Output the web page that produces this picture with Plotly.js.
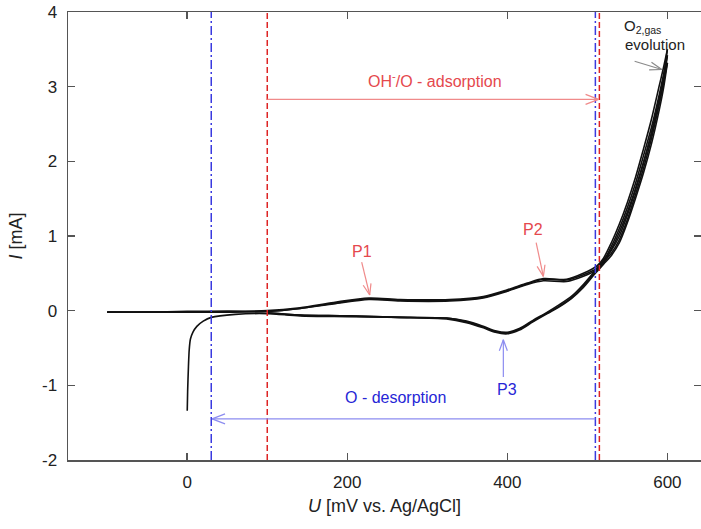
<!DOCTYPE html>
<html><head><meta charset="utf-8">
<script src="https://cdn.plot.ly/plotly-3.0.1.min.js"></script>
<style>html,body{margin:0;padding:0;background:#fff}</style>
</head><body><div id="chart" style="width:701px;height:529px"></div>
<script>
// ---- data ----
const U_an = [-100, -50, 0, 50, 100, 141, 183, 227, 266, 328, 370, 400, 425, 445, 474, 495, 512, 520, 530, 540, 550, 560, 570, 580, 590, 595, 600];
const I_an_1 = [-0.02, -0.02, -0.02, -0.01, -0.01, 0.03, 0.10, 0.16, 0.14, 0.14, 0.18, 0.27, 0.36, 0.42, 0.41, 0.48, 0.57, 0.66, 0.86, 1.10, 1.38, 1.70, 2.07, 2.45, 2.90, 3.15, 3.42];
const I_an_2 = [-0.02, -0.02, -0.01, -0.01, 0.00, 0.04, 0.11, 0.17, 0.15, 0.15, 0.19, 0.28, 0.37, 0.43, 0.42, 0.50, 0.60, 0.70, 0.91, 1.16, 1.45, 1.78, 2.16, 2.56, 3.02, 3.25, 3.50];
const I_an_3 = [-0.02, -0.02, -0.02, -0.02, -0.01, 0.03, 0.09, 0.15, 0.13, 0.13, 0.17, 0.26, 0.35, 0.40, 0.39, 0.46, 0.55, 0.63, 0.82, 1.05, 1.32, 1.63, 1.98, 2.36, 2.80, 3.05, 3.32];

const U_ca = [600, 595, 590, 580, 570, 560, 550, 540, 530, 520, 510, 495, 480, 465, 450, 432, 415, 400, 385, 370, 349, 324, 266, 200, 141, 100, 60, 30, 20, 12, 7, 4, 2.5, 1.5, 0.5, 0];
const I_ca_1 = [3.42, 3.05, 2.78, 2.30, 1.90, 1.55, 1.22, 0.95, 0.77, 0.65, 0.52, 0.33, 0.17, 0.06, -0.03, -0.14, -0.25, -0.30, -0.28, -0.22, -0.15, -0.10, -0.09, -0.07, -0.06, -0.03];
const I_ca_2 = [3.50, 3.12, 2.86, 2.38, 1.97, 1.61, 1.28, 1.00, 0.81, 0.68, 0.54, 0.35, 0.19, 0.08, -0.02, -0.13, -0.24, -0.29, -0.27, -0.21, -0.14, -0.10, -0.09, -0.07, -0.06, -0.03];
const I_ca_3 = [3.32, 2.97, 2.70, 2.23, 1.84, 1.50, 1.18, 0.91, 0.74, 0.62, 0.50, 0.31, 0.16, 0.05, -0.04, -0.15, -0.26, -0.31, -0.29, -0.23, -0.16, -0.11, -0.09, -0.08, -0.07, -0.04, -0.05, -0.09, -0.14, -0.21, -0.29, -0.38, -0.52, -0.75, -1.08, -1.34];

const xTicks = [0, 200, 400, 600];
const yTicks = [-2, -1, 0, 1, 2, 3, 4];
const redLines = [100, 515];
const blueLines = [30, 510];

// ---- layout geometry ----
const W = 701, H = 529;
const M = {l: 68, r: 0, t: 12, b: 69};
const X_RANGE = [-149, 642], Y_RANGE = [-2, 4];
const pw = W - M.l - M.r, ph = H - M.t - M.b;
const kx = pw / (X_RANGE[1] - X_RANGE[0]), ky = ph / (Y_RANGE[1] - Y_RANGE[0]);
const FONT = 'Liberation Sans, Arial, sans-serif';

function arrow(x0, y0, x1, y1, color, len, half, width) {
  const dx = (x1 - x0) * kx, dy = (y1 - y0) * ky;
  const d = Math.hypot(dx, dy), ux = dx / d, uy = dy / d, nx = -uy, ny = ux;
  const line = {color: color, width: width};
  const out = [{type: 'line', xref: 'x', yref: 'y', x0: x0, y0: y0, x1: x1, y1: y1, line: line}];
  [1, -1].forEach(s => {
    out.push({type: 'line', xref: 'x', yref: 'y',
      x0: x1 + (-len * ux + s * half * nx) / kx, y0: y1 + (-len * uy + s * half * ny) / ky,
      x1: x1, y1: y1, line: line});
  });
  return out;
}

const lineStyle = {color: '#111', width: 1.6, shape: 'spline', smoothing: 0.8};
const traces = [];
[I_an_1, I_an_2, I_an_3].forEach(I => traces.push({x: U_an, y: I, mode: 'lines', line: lineStyle, hoverinfo: 'skip'}));
[I_ca_1, I_ca_2, I_ca_3].forEach(I => traces.push({x: U_ca.slice(0, I.length), y: I, mode: 'lines', line: lineStyle, hoverinfo: 'skip'}));

const RED = '#e5484d', RED_L = '#f08a8a', BLUE = '#2626d6', BLUE_L = '#8c8cf0';
let shapes = [];
redLines.forEach(x => shapes.push({type: 'line', xref: 'x', yref: 'paper', x0: x, x1: x, y0: 0, y1: 1,
  line: {color: '#dd2424', width: 1.5, dash: '6px,3px'}}));
blueLines.forEach(x => shapes.push({type: 'line', xref: 'x', yref: 'paper', x0: x, x1: x, y0: 0, y1: 1,
  line: {color: '#3a3ae0', width: 1.5, dash: '9px,3px,2px,3px'}}));
shapes = shapes.concat(
  arrow(100, 2.83, 514, 2.83, RED_L, 13, 5, 1.2),
  arrow(510, -1.45, 31, -1.45, BLUE_L, 13, 5, 1.2),
  arrow(218, 0.65, 228, 0.21, RED_L, 11, 4, 1.2),
  arrow(436, 0.91, 445, 0.46, RED_L, 11, 4, 1.2),
  arrow(395, -0.89, 395, -0.39, BLUE_L, 11, 4, 1.2),
  arrow(559, 3.34, 593, 3.23, '#8a8a8a', 12, 4, 1.2)
);

const ann = (x, y, text, color, size, extra) => Object.assign({x: x, y: y, xref: 'x', yref: 'y', text: text,
  showarrow: false, font: {family: FONT, size: size, color: color}}, extra || {});
const annotations = [
  ann(310, 3.09, 'OH<sup>-</sup>/O - adsorption', RED, 16),
  ann(260, -1.16, 'O - desorption', BLUE, 16),
  ann(219, 0.79, 'P1', RED, 16),
  ann(432, 1.09, 'P2', RED, 16),
  ann(400, -1.06, 'P3', BLUE, 16),
  ann(543, 3.80, 'O<sub>2,gas</sub>', '#222', 15, {xanchor: 'left'}),
  ann(584, 3.57, 'evolution', '#222', 15)
];

const axisCommon = {showgrid: false, zeroline: false, showline: true, linecolor: '#555', linewidth: 1.5,
  ticks: 'inside', ticklen: 7, tickwidth: 1.5, tickcolor: '#555', mirror: 'ticks',
  tickfont: {family: FONT, size: 17, color: '#222'}};

const layout = {
  width: W, height: H, margin: M, showlegend: false,
  paper_bgcolor: '#fff', plot_bgcolor: '#fff',
  xaxis: Object.assign({}, axisCommon, {range: X_RANGE, tickvals: xTicks, ticktext: xTicks.map(String),
    ticklabelstandoff: 6,
    title: {text: '<i>U</i> [mV vs. Ag/AgCl]', font: {family: FONT, size: 18, color: '#222'}, standoff: 8}}),
  yaxis: Object.assign({}, axisCommon, {range: Y_RANGE, tickvals: yTicks, ticktext: yTicks.map(String),
    ticklabelstandoff: 6,
    title: {text: '<i>I</i> [mA]', font: {family: FONT, size: 18, color: '#222'}, standoff: 14}}),
  shapes: shapes, annotations: annotations
};

Plotly.newPlot('chart', traces, layout, {staticPlot: true, displayModeBar: false});
</script></body></html>
